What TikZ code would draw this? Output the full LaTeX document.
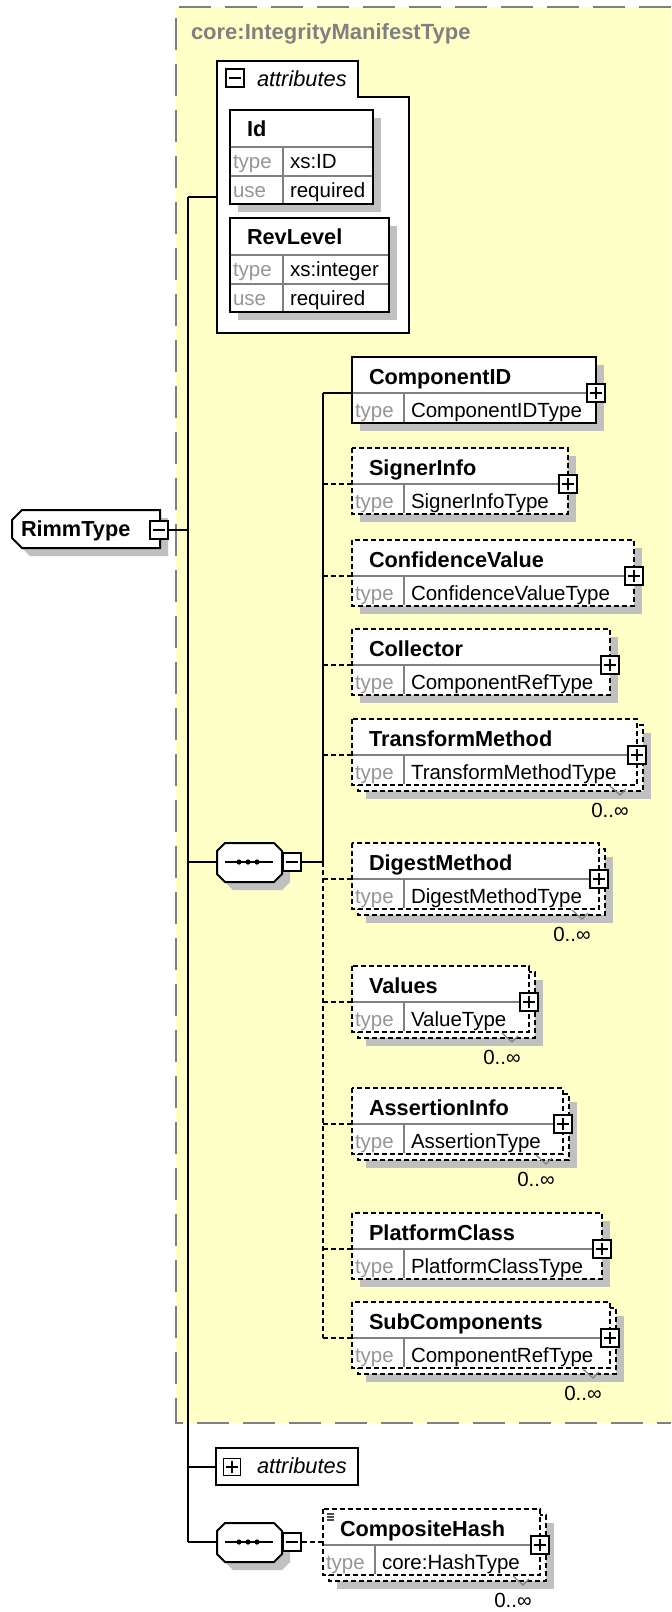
\documentclass[tikz,border=0pt]{standalone}
\usepackage{fontspec}
\setmainfont{Liberation Sans}
\definecolor{bgyellow}{RGB}{255,255,200}
\definecolor{shadowgray}{RGB}{192,192,192}
\definecolor{labelgray}{RGB}{150,150,150}
\definecolor{rulegray}{RGB}{128,128,128}
\tikzset{
  dropshade/.style={fill=shadowgray},
  elname/.style={font=\fontsize{10.85}{12}\selectfont\bfseries, inner sep=0pt, anchor=base west},
  tname/.style={font=\fontsize{10.25}{12}\selectfont, inner sep=0pt, anchor=base west},
  tlabel/.style={tname, text=labelgray},
  attrlbl/.style={font=\fontsize{10.9}{12}\selectfont\itshape, inner sep=0pt, anchor=base west},
  typetitle/.style={font=\fontsize{11}{13}\selectfont\bfseries, text=rulegray, inner sep=0pt, anchor=base west},
  occurs/.style={font=\fontsize{10.25}{12}\selectfont, inner sep=0pt, anchor=base},
  dashline/.style={dash pattern=on 2.5pt off 1.5pt},
  solidline/.style={solid},
  rowsep/.style={draw=rulegray, line width=0.75pt},
  btn/.style={draw, fill=white, minimum size=9pt, inner sep=0pt, line width=0.9pt},
  minusbtn/.style={btn, path picture={
    \draw[line width=0.9pt] ([xshift=-3.2pt]path picture bounding box.center) -- ([xshift=3.2pt]path picture bounding box.center);}},
  plusbtn/.style={btn, path picture={
    \draw[line width=0.9pt] ([xshift=-3.2pt]path picture bounding box.center) -- ([xshift=3.2pt]path picture bounding box.center)
      ([yshift=-3.2pt]path picture bounding box.center) -- ([yshift=3.2pt]path picture bounding box.center);}}
}
% element box: id, left, top, right, name, type, line style, stacked (0/1)
\newcommand{\elembox}[8]{%
  \ifnum#8=1\relax
    \fill[dropshade] ({#2+14},{#3+14}) rectangle ({#4+14},{#3+80});
    \draw[#7,fill=white] ({#2+6},{#3+6}) rectangle ({#4+6},{#3+72});
  \else
    \fill[dropshade] ({#2+8},{#3+8}) rectangle ({#4+8},{#3+74});
  \fi
  \draw[#7,fill=white] (#2,#3) rectangle (#4,{#3+66});
  \draw[rowsep] ({#2+1},{#3+36}) -- ({#4-1},{#3+36}) ({#2+52},{#3+36}) -- ({#2+52},{#3+65});
  \node[elname] (#1) at ({#2+16},{#3+27}) {#5};
  \node[tlabel] (#1-lbl) at ({#2+2},{#3+60}) {type};
  \node[tname] (#1-type) at ({#2+58},{#3+60}) {#6};
  \coordinate (#1-in) at (#2,{#3+36});
  \ifnum#8=1\relax
    \draw[rulegray, line width=0.6pt] ({#4-27},{#3+67}) -- ({#4-17},{#3+76}) -- ({#4-11},{#3+70});
    \node[occurs] (#1-occ) at ({#4-27},{#3+98}) {0..∞};
  \fi
  \node[plusbtn] (#1-btn) at (#4,{#3+36}) {};
}
% attribute box: id, left, top, right, name, type, use
\newcommand{\attrbox}[7]{%
  \fill[dropshade] ({#2+8},{#3+8}) rectangle ({#4+8},{#3+102});
  \draw[fill=white] (#2,#3) rectangle (#4,{#3+94});
  \draw[rowsep] ({#2+1},{#3+37}) -- ({#4-1},{#3+37}) ({#2+1},{#3+66}) -- ({#4-1},{#3+66})
    ({#2+53},{#3+37}) -- ({#2+53},{#3+93});
  \node[elname] (#1) at ({#2+16},{#3+26}) {#5};
  \node[tlabel] (#1-lbl) at ({#2+2},{#3+58}) {type};
  \node[tname] (#1-type) at ({#2+59},{#3+58}) {#6};
  \node[tlabel] (#1-ulbl) at ({#2+2},{#3+87}) {use};
  \node[tname] (#1-use) at ({#2+59},{#3+87}) {#7};
}
% sequence compositor: id, y of centre
\newcommand{\seqbox}[2]{%
  \fill[dropshade] (233,{#2-11}) -- (282,{#2-11}) -- (290,{#2-3}) -- (290,{#2+20}) -- (282,{#2+28})
    -- (233,{#2+28}) -- (225,{#2+20}) -- (225,{#2-3}) -- cycle;
  \draw[fill=white] (225,{#2-19}) -- (274,{#2-19}) -- (282,{#2-11}) -- (282,{#2+12}) -- (274,{#2+20})
    -- (225,{#2+20}) -- (217,{#2+12}) -- (217,{#2-11}) -- cycle;
  \draw (225,#2) -- (273,#2);
  \fill (239,#2) circle (1.3pt) (248,#2) circle (1.3pt) (257,#2) circle (1.3pt);
  \node[minusbtn] (#1-btn) at (292,#2) {};
  \coordinate (#1-west) at (217,#2);
}
\begin{document}
\begin{tikzpicture}[x=0.5pt,y=-0.5pt,line width=1pt]
\useasboundingbox (0,0) rectangle (671,1612);
% complex type area
\fill[bgyellow] (176,7) rectangle (671,1423);
\draw[rulegray, dash pattern=on 16pt off 7pt] (671,7) -- (176,7) -- (176,1423) -- (671,1423);
\node[typetitle] (typename) at (190,39) {core:IntegrityManifestType};

% root element
\fill[dropshade] (30,518) -- (168,518) -- (168,556) -- (30,556) -- (20,546) -- (20,528) -- cycle;
\draw[fill=white] (22,510) -- (160,510) -- (160,548) -- (22,548) -- (12,538) -- (12,520) -- cycle;
\node[elname] (rimm) at (20,536) {RimmType};
\node[minusbtn] (rimm-btn) at (159,530) {};

\coordinate (trunk-top) at (188,197);
\coordinate (trunk-bot) at (188,1542);
\draw (rimm-btn.east) -- (rimm-btn.east -| trunk-top);
\draw (trunk-top) -- (trunk-bot);

% attributes
\draw[fill=white] (217,61) -- (358,61) -- (358,97) -- (409,97) -- (409,333) -- (217,333) -- cycle;
\node[minusbtn] (attr-btn) at (235,78) {};
\node[attrlbl] (attr) at (256,86) {attributes};
\coordinate (attr-in) at (217,197);
\draw (trunk-top) -- (attr-in);
\attrbox{id}{230}{110}{373}{Id}{xs:ID}{required}
\attrbox{rev}{230}{218}{389}{RevLevel}{xs:integer}{required}

% sequence
\seqbox{seq}{862}
\draw (trunk-top |- seq-west) -- (seq-west);
\coordinate (seq-bar) at (323,862);
\draw (seq-btn.east) -- (seq-bar);

\elembox{cid}{352}{357}{596}{ComponentID}{ComponentIDType}{solidline}{0}
\elembox{sig}{352}{448}{568}{SignerInfo}{SignerInfoType}{dashline}{0}
\elembox{conf}{352}{540}{634}{ConfidenceValue}{ConfidenceValueType}{dashline}{0}
\elembox{coll}{352}{629}{610}{Collector}{ComponentRefType}{dashline}{0}
\elembox{trans}{352}{719}{637}{TransformMethod}{TransformMethodType}{dashline}{1}
\elembox{dig}{352}{843}{599}{DigestMethod}{DigestMethodType}{dashline}{1}
\elembox{val}{352}{966}{529}{Values}{ValueType}{dashline}{1}
\elembox{assert}{352}{1088}{563}{AssertionInfo}{AssertionType}{dashline}{1}
\elembox{plat}{352}{1213}{602}{PlatformClass}{PlatformClassType}{dashline}{0}
\elembox{sub}{352}{1302}{610}{SubComponents}{ComponentRefType}{dashline}{1}

\draw (cid-in -| seq-bar) -- (seq-bar);
\draw[dashline] (seq-bar) -- (sub-in -| seq-bar);
\draw (cid-in -| seq-bar) -- (cid-in);
\foreach \e in {sig,conf,coll,trans,dig,val,assert,plat,sub}
  \draw[dashline] (\e-in -| seq-bar) -- (\e-in);

% attributes (collapsed)
\draw[fill=white] (216,1448) rectangle (358,1485);
\node[plusbtn, minimum size=8.5pt] (attr2-btn) at (232,1467) {};
\node[attrlbl] (attr2) at (256,1473) {attributes};
\coordinate (attr2-in) at (216,1467);
\draw (trunk-top |- attr2-in) -- (attr2-in);

% second sequence
\seqbox{seqb}{1542}
\draw (trunk-bot) -- (seqb-west);
\elembox{hash}{323}{1509}{540}{CompositeHash}{core:HashType}{dashline}{1}
\draw[dashline] (seqb-btn.east) -- (seqb-btn.east -| hash-in);
\draw[rulegray!60!black, line width=0.6pt] (327,1514) -- (334,1514) (327,1517) -- (334,1517) (327,1520) -- (334,1520);
\end{tikzpicture}
\end{document}
